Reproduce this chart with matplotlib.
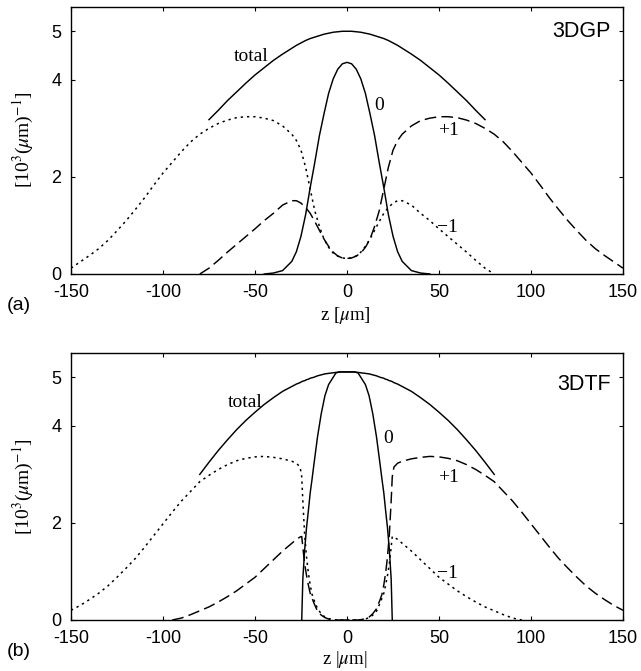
import numpy as np
import matplotlib
matplotlib.use("Agg")
import matplotlib.pyplot as plt

NaN = np.nan

# ---------------- panel (a) 3DGP ----------------
z_top = [-150, -145, -140, -135, -130, -125, -120, -115, -110, -105, -100, -95, -90, -85,
         -80, -75, -70, -65, -60, -55, -50, -45, -40, -35,
         -30, -27.5, -25, -22.5, -20, -17.5, -15, -12.5, -10, -7.5, -5, -2.5, 0,
         2.5, 5, 7.5, 10, 12.5, 15, 17.5, 20, 22.5, 25, 27.5, 30,
         35, 40, 45, 50, 55, 60, 65, 70, 75, 80, 85, 90, 95, 100, 105, 110, 115,
         120, 125, 130, 135, 140, 145, 150]

total_top = [NaN] * 15 + [3.18, 3.37, 3.57, 3.75, 3.93, 4.10, 4.25, 4.40, 4.53,
             4.65, 4.71, 4.76, 4.81, 4.85, 4.88, 4.91, 4.94, 4.96, 4.98, 4.99, 5.00, 5.00,
             5.00, 4.99, 4.98, 4.96, 4.94, 4.91, 4.88, 4.85, 4.81, 4.76, 4.71, 4.65,
             4.53, 4.40, 4.25, 4.10, 3.93, 3.75, 3.57, 3.37, 3.18] + [NaN] * 15

zero_top = [NaN] * 21 + [0.00, 0.02, 0.07,
            0.26, 0.46, 0.78, 1.22, 1.78, 2.30, 2.85, 3.30, 3.72, 4.02, 4.22, 4.33, 4.36,
            4.33, 4.22, 4.02, 3.72, 3.30, 2.85, 2.30, 1.78, 1.22, 0.78, 0.46, 0.26,
            0.07, 0.02, 0.00] + [NaN] * 21

minus1_top = [0.12, 0.25, 0.38, 0.52, 0.69, 0.89, 1.10, 1.33, 1.57, 1.83, 2.08, 2.30, 2.52, 2.72,
              2.88, 3.00, 3.10, 3.17, 3.22, 3.24, 3.24, 3.21, 3.16, 3.05,
              2.88, 2.75, 2.55, 2.20, 1.75, 1.30, 0.98, 0.72, 0.55, 0.43, 0.37, 0.33, 0.32,
              0.33, 0.37, 0.45, 0.57, 0.72, 0.90, 1.08, 1.25, 1.37, 1.46, 1.51, 1.51,
              1.42, 1.25, 1.10, 0.93, 0.77, 0.61, 0.45, 0.28, 0.12, 0.00] + [NaN] * 14

plus1_top = [NaN] * 14 + [0.00, 0.12, 0.28, 0.45, 0.61, 0.77, 0.93, 1.10, 1.25, 1.42,
             1.51, 1.51, 1.46, 1.37, 1.25, 1.08, 0.90, 0.72, 0.57, 0.45, 0.37, 0.33, 0.32,
             0.33, 0.37, 0.43, 0.55, 0.72, 0.98, 1.30, 1.75, 2.20, 2.55, 2.75, 2.88,
             3.05, 3.16, 3.21, 3.24, 3.24, 3.22, 3.17, 3.10, 3.00, 2.88, 2.72, 2.52, 2.30,
             2.08, 1.83, 1.57, 1.33, 1.10, 0.89, 0.69, 0.52, 0.38, 0.25, 0.12]

# ---------------- panel (b) 3DTF ----------------
z_bot = [-150, -145, -140, -135, -130, -125, -120, -115, -110, -105, -100, -95, -90, -85,
         -80, -75, -70, -65, -60, -55, -50, -45, -40, -35,
         -30, -27.5, -25.5, -24.6, -24, -23, -22, -21, -20, -19, -18, -16, -14, -12, -10,
         -8, -6, -4, -2, 0,
         2, 4, 6, 8, 10, 12, 14, 16, 18, 19, 20, 21, 22, 23, 24, 24.6, 25.5, 27.5, 30,
         35, 40, 45, 50, 55, 60, 65, 70, 75, 80, 85, 90, 95, 100, 105, 110, 115,
         120, 125, 130, 135, 140, 145, 150]

total_bot = [NaN] * 14 + [3.00, 3.25, 3.49, 3.71, 3.92, 4.11, 4.28, 4.44, 4.58, 4.71,
             4.81, 4.86, 4.89, 4.91, 4.92, 4.93, 4.95, 4.96, 4.98, 4.99, 5.00, 5.03, 5.05,
             5.07, 5.08, 5.09, 5.10, 5.11, 5.11, 5.11,
             5.11, 5.11, 5.10, 5.09, 5.08, 5.07, 5.05, 5.03, 5.00, 4.99, 4.98, 4.96, 4.95,
             4.93, 4.92, 4.91, 4.89, 4.86, 4.81,
             4.71, 4.58, 4.44, 4.28, 4.11, 3.92, 3.71, 3.49, 3.25, 3.00] + [NaN] * 14

zero_bot = [NaN] * 27 + [0.00, 0.85, 1.45, 1.90, 2.25, 2.62, 2.90, 3.20, 3.78, 4.25, 4.62,
            4.85, 4.97, 5.09, 5.11, 5.11, 5.11,
            5.11, 5.11, 5.09, 4.97, 4.85, 4.62, 4.25, 3.78, 3.20, 2.90, 2.62, 2.25, 1.90,
            1.45, 0.85, 0.00] + [NaN] * 27

minus1_bot = [0.20, 0.30, 0.42, 0.55, 0.70, 0.88, 1.07, 1.27, 1.50, 1.74, 1.98, 2.22, 2.45,
              2.65, 2.85, 2.98, 3.10, 3.20, 3.28, 3.33, 3.36, 3.37, 3.35, 3.32,
              3.27, 3.23, 3.15, 2.95, 2.45, 1.75, 1.30, 0.97, 0.72, 0.53, 0.42, 0.23, 0.13,
              0.06, 0.03, 0.01, 0.00, 0.00, 0.00, 0.00,
              0.00, 0.00, 0.00, 0.00, 0.02, 0.05, 0.10, 0.18, 0.35, 0.45, 0.55, 0.72, 0.92,
              1.15, 1.50, 1.72, 1.71, 1.66, 1.58,
              1.42, 1.24, 1.06, 0.88, 0.74, 0.60, 0.48, 0.37, 0.27, 0.19, 0.11, 0.04,
              0.00] + [NaN] * 11

plus1_bot = [NaN] * 11 + [0.00, 0.04, 0.11, 0.19, 0.27, 0.37, 0.48, 0.60, 0.74, 0.88, 1.06,
             1.24, 1.42,
             1.58, 1.66, 1.71, 1.72, 1.50, 1.15, 0.92, 0.72, 0.55, 0.45, 0.35, 0.18, 0.10,
             0.05, 0.02, 0.00, 0.00, 0.00, 0.00, 0.00,
             0.00, 0.00, 0.00, 0.01, 0.03, 0.06, 0.13, 0.23, 0.42, 0.53, 0.72, 0.97, 1.30,
             1.75, 2.45, 2.95, 3.15, 3.23, 3.27,
             3.32, 3.35, 3.37, 3.36, 3.33, 3.28, 3.20, 3.10, 2.98, 2.85, 2.65, 2.45, 2.22,
             1.98, 1.74, 1.50, 1.27, 1.07, 0.88, 0.70, 0.55, 0.42, 0.30, 0.20]

x_ticks = [-150, -100, -50, 0, 50, 100, 150]
y_ticks = [0, 2, 4, 5]

# ---------------- drawing ----------------
plt.rcParams["mathtext.fontset"] = "stix"
plt.rcParams["font.family"] = ["Liberation Sans", "DejaVu Sans"]

fig = plt.figure(figsize=(6.41, 6.71), dpi=100)
W, H = 641.0, 671.0
ax1 = fig.add_axes([71 / W, 1 - 274 / H, 552 / W, 267 / H])
ax2 = fig.add_axes([71 / W, 1 - 620 / H, 552 / W, 267 / H])

SERIF = ["Liberation Serif", "DejaVu Serif"]
dash = (0, (8, 3.6))
dot = (0, (1.5, 2.6))

panels = [
    (ax1, z_top, total_top, zero_top, plus1_top, minus1_top, "3DGP", 5.0,
     dict(total=(-52, 4.38), zero=(17.4, 3.37), plus=(54.9, 2.87), minus=(54.6, 0.87))),
    (ax2, z_bot, total_bot, zero_bot, plus1_bot, minus1_bot, "3DTF", 4.86,
     dict(total=(-55.4, 4.39), zero=(22.3, 3.65), plus=(54.9, 2.85), minus=(54.6, 0.87))),
]

for ax, z, tot, zer, p1, m1, name, ny, lab in panels:
    ax.plot(z, tot, color="black", lw=1.05)
    ax.plot(z, zer, color="black", lw=1.05)
    ax.plot(z, p1, color="black", lw=1.05, linestyle=dash)
    ax.plot(z, m1, color="black", lw=1.1, linestyle=dot)
    ax.set_xlim(-150, 150)
    ax.set_ylim(0, 5.5)
    ax.set_xticks(x_ticks)
    ax.set_yticks(y_ticks)
    ax.set_xticklabels([str(t) for t in x_ticks])
    ax.tick_params(direction="in", top=True, right=True, length=3.2, width=0.8,
                   labelsize=13)
    ax.tick_params(axis="x", pad=7.5)
    ax.tick_params(axis="y", pad=7)
    for s in ax.spines.values():
        s.set_linewidth(1.0)
    ax.text(lab["total"][0], lab["total"][1], "total", family=SERIF, fontsize=14,
            ha="center", va="baseline")
    ax.text(lab["zero"][0], lab["zero"][1], "0", family=SERIF, fontsize=14,
            ha="center", va="baseline")
    ax.text(lab["plus"][0], lab["plus"][1], "+1", family=SERIF, fontsize=14,
            ha="center", va="baseline")
    ax.text(lab["minus"][0], lab["minus"][1], "\u22121", family=SERIF, fontsize=14,
            ha="center", va="baseline")
    ax.text(143.5, ny, name, fontsize=15.5, ha="right", va="center")

# axis labels and panel tags
for yc in (140, 487):
    fig.text(23 / W, 1 - yc / H, r"[10$^3$($\mu$m)$^{-1}$]", family=SERIF, fontsize=14,
             rotation=90, ha="center", va="center")
fig.text(345 / W, 1 - 315 / H, r"z [$\mu$m]", family=SERIF, fontsize=13.5,
         ha="center", va="center")
fig.text(345 / W, 1 - 660 / H, r"z |$\mu$m|", family=SERIF, fontsize=13.5,
         ha="center", va="center")
fig.text(19 / W, 1 - 305 / H, "(a)", fontsize=14, ha="center", va="center")
fig.text(19 / W, 1 - 652 / H, "(b)", fontsize=14, ha="center", va="center")

fig.savefig("out.png", dpi=100)
